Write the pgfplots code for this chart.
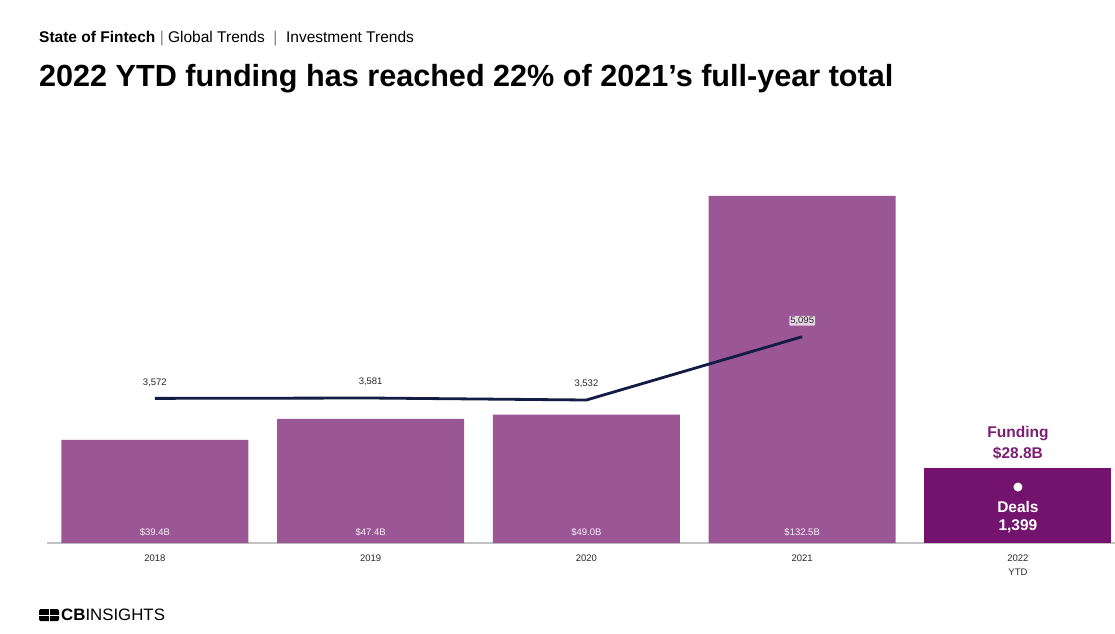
\documentclass[border=0pt]{standalone}
\usepackage{pgfplots}
\pgfplotsset{compat=1.18}
\usepackage{fontspec}
\setmainfont{Liberation Sans}
\definecolor{barpurple}{RGB}{155,86,150}
\definecolor{darkpurple}{RGB}{116,19,110}
\definecolor{fundpurple}{RGB}{123,30,116}
\definecolor{navy}{RGB}{18,28,68}
\definecolor{basegray}{RGB}{195,195,195}
\definecolor{txt}{RGB}{40,40,40}
\begin{document}
\begin{tikzpicture}[x=1pt,y=1pt]
\path[use as bounding box] (0pt,0pt) rectangle (1115pt,633pt);
\fill[white] (0pt,0pt) rectangle (1115pt,633pt);
% header
\node[anchor=base west, inner sep=0, font=\fontsize{15.5}{17}\selectfont, text=black] at (39pt,590pt) {\textbf{State of Fintech} {\color{gray}|} Global Trends \ {\color{gray}|} \ Investment Trends};
\node[anchor=base west, inner sep=0, font=\fontsize{30.6}{34}\selectfont\bfseries, text=black] at (39pt,546pt) {2022 YTD funding has reached 22\% of 2021’s full-year total};
% logo
\fill[black, rounded corners=1.5pt] (39pt,12pt) rectangle (59pt,24pt);
\draw[white, line width=1pt] (49.5pt,12pt) -- (49.5pt,24pt);
\draw[white, line width=1pt] (39pt,18pt) -- (59pt,18pt);
\node[anchor=base west, inner sep=0, font=\fontsize{16.5}{18}\selectfont, text=black] at (61pt,12.5pt) {\scalebox{1.02}[1]{\textbf{CB}INSIGHTS}};
% bars
\begin{axis}[at={(47pt,90pt)}, anchor=south west, scale only axis,
  width=1068pt, height=363pt,
  xmin=-0.5, xmax=4.45, ymin=0, ymax=138.6,
  hide y axis, axis x line=bottom,
  x axis line style={draw=basegray, line width=1.2pt, -},
  xtick={0,1,2,3,4}, xticklabels={2018,2019,2020,2021,{2022\\YTD}},
  x tick label style={align=center, font=\fontsize{9.5}{14}\selectfont, text=txt, yshift=-8pt},
  major tick length=0, clip=false]
\addplot[ybar, bar width=187pt, bar shift=0pt, fill=barpurple, draw=none] coordinates {(0,39.4) (1,47.4) (2,49.0) (3,132.5)};
\addplot[ybar, bar width=187pt, bar shift=0pt, fill=darkpurple, draw=none] coordinates {(4,28.8)};
\foreach \i/\l in {0/39.4B,1/47.4B,2/49.0B,3/132.5B}{
  \edef\tmp{\noexpand\node[font=\noexpand\fontsize{9.5}{11}\noexpand\selectfont, text=white!92!barpurple, yshift=11pt] at (axis cs:\i,0) {\noexpand\$\l};}
  \tmp
}
\node[font=\fontsize{15.5}{17}\selectfont\bfseries, text=fundpurple, yshift=109pt] at (axis cs:4,0) {Funding};
\node[font=\fontsize{15.5}{17}\selectfont\bfseries, text=fundpurple, yshift=90pt] at (axis cs:4,0) {\$28.8B};
\fill[white] (axis cs:4,0) ++(0pt,56pt) circle (4.5pt);
\node[font=\fontsize{15.5}{17}\selectfont\bfseries, text=white, yshift=36pt] at (axis cs:4,0) {Deals};
\node[font=\fontsize{15.5}{17}\selectfont\bfseries, text=white, yshift=17pt] at (axis cs:4,0) {1,399};
\end{axis}
% line
\begin{axis}[at={(47pt,90pt)}, anchor=south west, scale only axis,
  width=1068pt, height=363pt,
  xmin=-0.5, xmax=4.45, ymin=0, ymax=8966,
  hide axis, clip=false]
\addplot[navy, line width=2.8pt, mark=none, line join=round,
  nodes near coords, point meta=explicit symbolic,
  nodes near coords style={anchor=center, yshift=16pt, font=\fontsize{9.5}{11}\selectfont, text=txt, fill=white, fill opacity=0.75, text opacity=1, inner sep=1pt, rounded corners=1pt}]
  table[meta=lab] {
x y lab
0 3572 3,572
1 3581 3,581
2 3532 3,532
3 5095 5,095
};
\end{axis}
\end{tikzpicture}
\end{document}
